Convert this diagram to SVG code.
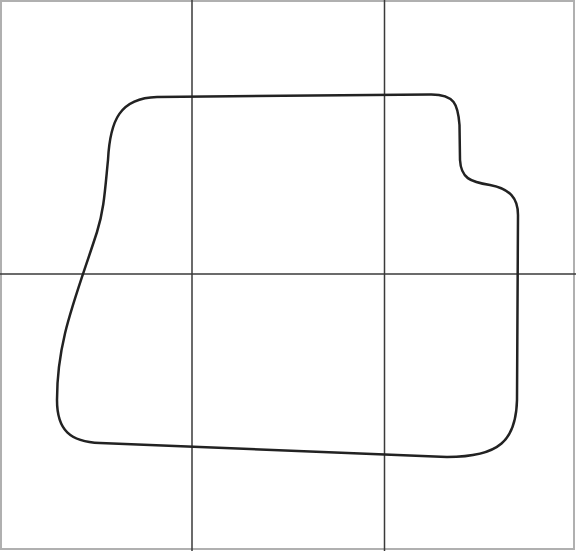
<svg xmlns="http://www.w3.org/2000/svg" width="576" height="551" viewBox="0 0 576 551">
<style>
.grid{stroke:#3a3a3a;stroke-width:1.5;fill:none}
.border{stroke:#b0b0b0;stroke-width:2;fill:none}
.shape{stroke:#222;stroke-width:2.5;fill:none;stroke-linejoin:round}
</style>
<rect width="576" height="551" fill="#fff"/>
<g id="grid">
<rect class="border" x="1" y="1" width="573" height="548"/>
<line class="grid" x1="192" y1="0" x2="192" y2="551"/>
<line class="grid" x1="384.5" y1="0" x2="384.5" y2="551"/>
<line class="grid" x1="0" y1="274" x2="576" y2="274"/>
</g>
<g id="outline">
<path class="shape" d="M157,97 L430,94.5 C455,94 458,105 459.5,125 L460,160 C461,178 470,182 490,185 C510,189 518,198 518,215 L517,400 C516,440 500,457 447,457 L100,443 C70,442 57,430 57,400 C57,340 75,300 97,232 C104,210 105,190 108,160 C110,120 120,98 157,97 Z"/>
</g>
</svg>
